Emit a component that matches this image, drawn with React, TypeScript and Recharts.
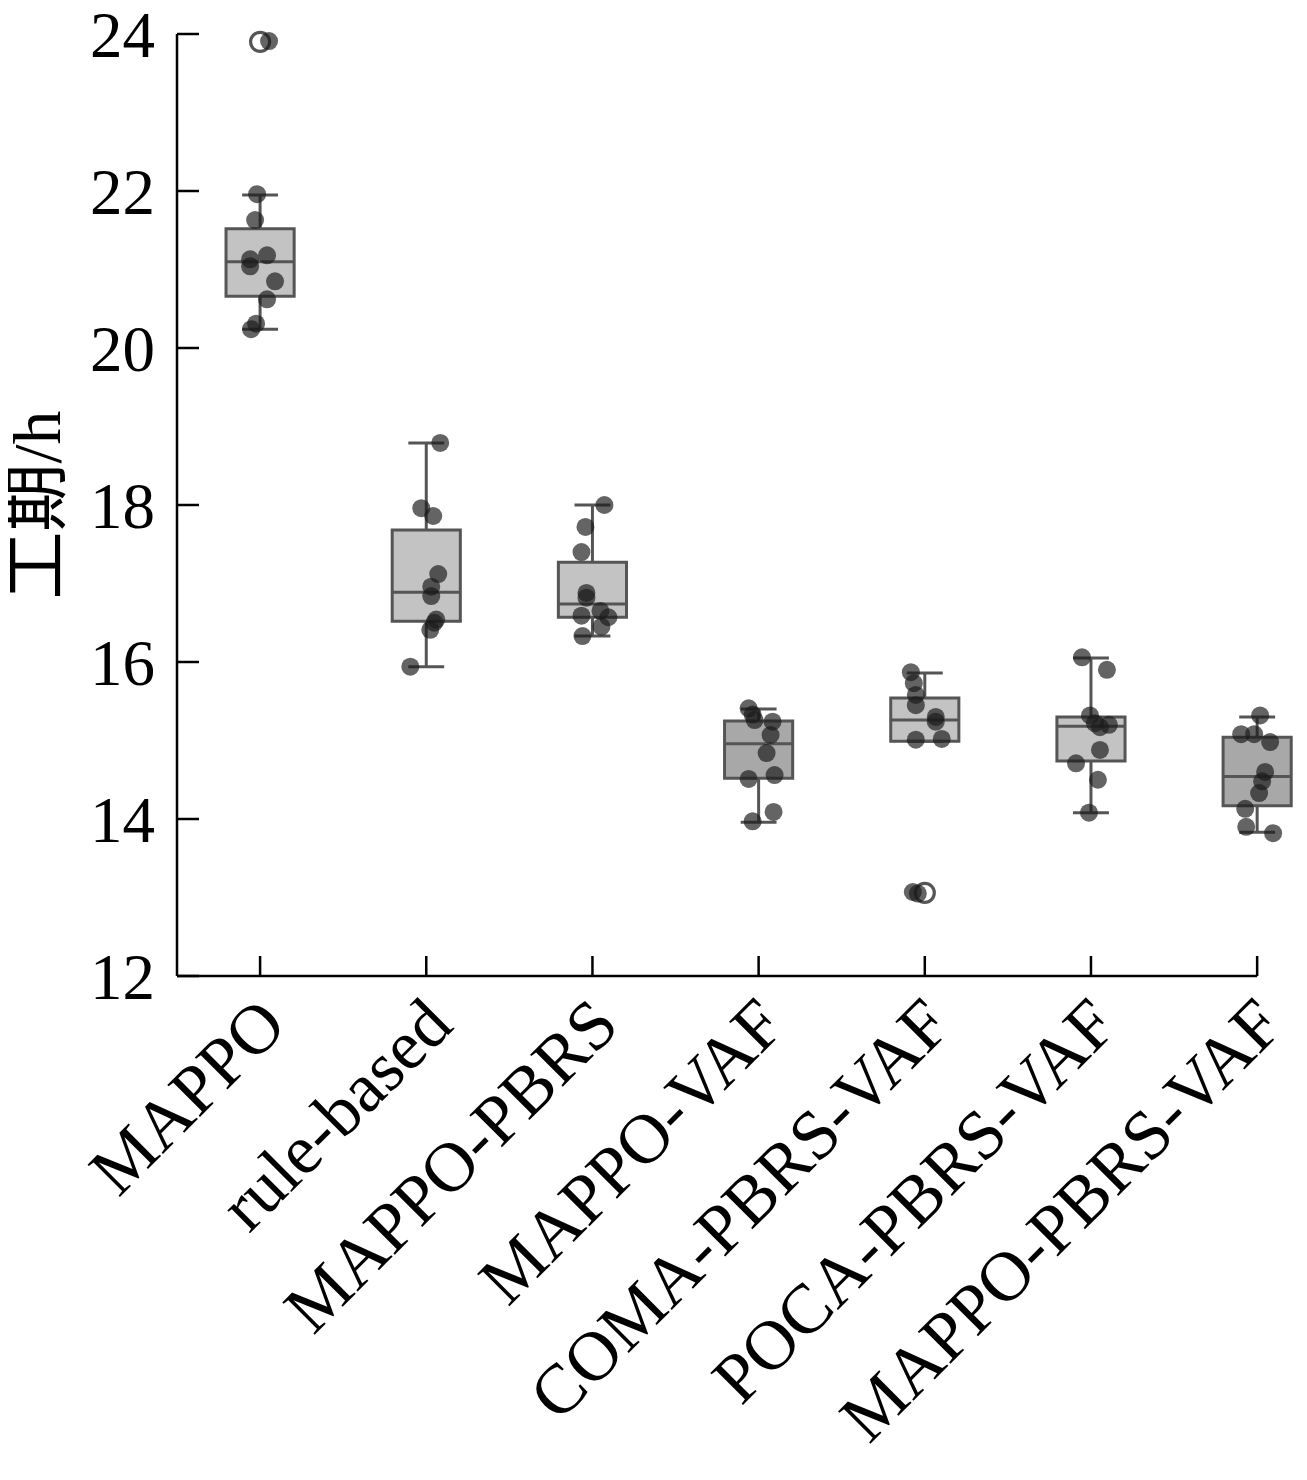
import { ComposedChart, XAxis, YAxis, Scatter, ReferenceArea, ReferenceLine, Label } from 'recharts';

const categories = ['MAPPO', 'rule-based', 'MAPPO-PBRS', 'MAPPO-VAF', 'COMA-PBRS-VAF', 'POCA-PBRS-VAF', 'MAPPO-PBRS-VAF'];

// box statistics per method (hours)
const whiskerLow = [20.24, 15.94, 16.33, 13.96, 14.99, 14.08, 13.83];
const quartile1 = [20.66, 16.52, 16.57, 14.52, 14.99, 14.74, 14.17];
const medians = [21.1, 16.89, 16.74, 14.96, 15.26, 15.18, 14.54];
const quartile3 = [21.52, 17.68, 17.27, 15.25, 15.54, 15.3, 15.04];
const whiskerHigh = [21.95, 18.79, 18.0, 15.4, 15.86, 16.05, 15.3];
const outliers = [[23.9], [], [], [], [13.06], [], []];

// individual runs
const runs = [
  [21.96, 21.63, 21.13, 21.04, 21.18, 20.85, 20.62, 20.31, 20.24, 23.91],
  [18.79, 17.96, 17.86, 17.12, 16.96, 16.84, 16.54, 16.5, 16.41, 15.94],
  [18.0, 17.72, 17.4, 16.88, 16.82, 16.59, 16.65, 16.57, 16.45, 16.33],
  [15.41, 15.33, 15.26, 15.24, 15.07, 14.84, 14.51, 14.56, 14.09, 13.97],
  [15.87, 15.73, 15.58, 15.45, 15.3, 15.24, 15.01, 15.02, 13.07, 13.05],
  [16.06, 15.9, 15.32, 15.22, 15.17, 15.2, 14.88, 14.71, 14.5, 14.08],
  [15.32, 15.08, 15.08, 14.98, 14.6, 14.48, 14.33, 14.13, 13.9, 13.82],
];
// strip-plot jitter (category units)
const jitter = [
  [-0.018, -0.03, -0.06, -0.06, 0.042, 0.09, 0.042, -0.024, -0.054, 0.054],
  [0.084, -0.03, 0.042, 0.072, 0.03, 0.03, 0.06, 0.048, 0.024, -0.096],
  [0.072, -0.042, -0.066, -0.036, -0.036, -0.066, 0.048, 0.096, 0.054, -0.06],
  [-0.06, -0.036, -0.024, 0.084, 0.072, 0.048, -0.06, 0.096, 0.09, -0.036],
  [-0.084, -0.066, -0.054, -0.054, 0.066, 0.066, -0.054, 0.102, -0.072, -0.042],
  [-0.054, 0.096, -0.006, 0.024, 0.054, 0.108, 0.054, -0.09, 0.042, -0.012],
  [0.018, -0.096, -0.018, 0.078, 0.048, 0.03, 0.012, -0.072, -0.066, 0.096],
];

const yTicks = [12, 14, 16, 18, 20, 22, 24];

const SERIF = "'Liberation Serif', 'Noto Sans CJK SC', serif";
const EDGE = '#555555';
const darkBoxes = [3, 6];
const BOX_HALF = 0.205;
const CAP_HALF = 0.108;

const points = runs.flatMap((vals, i) => vals.map((v, j) => ({ x: i + jitter[i][j], y: v })));
const fliers = outliers.flatMap((vals, i) => vals.map((v) => ({ x: i, y: v })));

function CategoryTick(props: any) {
  const { x, y, payload } = props;
  const ax = x + 29;
  return (
    <text
      x={ax}
      y={y}
      textAnchor="end"
      transform={`rotate(-45 ${ax} ${y})`}
      fontFamily={SERIF}
      fontSize={70}
      fill="#000"
    >
      {categories[payload.value]}
    </text>
  );
}

function YTitle(props: any) {
  const { viewBox } = props;
  const cx = viewBox.x + 60;
  const cy = viewBox.y + viewBox.height / 2;
  return (
    <text
      x={cx}
      y={cy}
      textAnchor="middle"
      transform={`rotate(-90 ${cx} ${cy})`}
      fontFamily={SERIF}
      fontSize={68}
      fill="#000"
    >
      工期/h
    </text>
  );
}

export default function App() {
  return (
    <div style={{ marginLeft: -8, marginTop: -8, width: 1307, height: 1480, background: '#fff' }}>
      <ComposedChart width={1307} height={1480} margin={{ top: 34, right: 0, bottom: 0, left: 0 }}>
        <XAxis
          type="number"
          dataKey="x"
          domain={[-0.5, 6.3]}
          ticks={[0, 1, 2, 3, 4, 5, 6]}
          interval={0}
          height={504}
          axisLine={false}
          tickLine={{ stroke: '#000', strokeWidth: 2.5 }}
          tickSize={-20}
          tickMargin={72}
          tick={<CategoryTick />}
        />
        <YAxis
          type="number"
          dataKey="y"
          domain={[12, 24]}
          ticks={yTicks}
          interval={0}
          width={177}
          axisLine={{ stroke: '#000', strokeWidth: 2.5 }}
          tickLine={{ stroke: '#000', strokeWidth: 2.5 }}
          tickSize={-22}
          tickMargin={44}
          tick={{ fontFamily: SERIF, fontSize: 65, fill: '#000' }}
        >
          <Label content={<YTitle />} position="left" />
        </YAxis>

        <ReferenceLine
          segment={[{ x: -0.5, y: 12 }, { x: 6, y: 12 }]}
          stroke="#000"
          strokeWidth={2.5}
        />

        {categories.map((_, i) => (
          <ReferenceArea
            key={`box-${i}`}
            x1={i - BOX_HALF}
            x2={i + BOX_HALF}
            y1={quartile1[i]}
            y2={quartile3[i]}
            fill={darkBoxes.includes(i) ? '#a8a8a8' : '#c3c3c3'}
            fillOpacity={1}
            stroke={EDGE}
            strokeWidth={3}
            ifOverflow="visible"
          />
        ))}
        {categories.map((_, i) => (
          <ReferenceLine
            key={`med-${i}`}
            segment={[{ x: i - BOX_HALF, y: medians[i] }, { x: i + BOX_HALF, y: medians[i] }]}
            stroke={EDGE}
            strokeWidth={3}
            ifOverflow="visible"
          />
        ))}
        {categories.map((_, i) => (
          <ReferenceLine
            key={`wh-${i}`}
            segment={[{ x: i, y: quartile3[i] }, { x: i, y: whiskerHigh[i] }]}
            stroke={EDGE}
            strokeWidth={3}
            ifOverflow="visible"
          />
        ))}
        {categories.map((_, i) => (
          <ReferenceLine
            key={`wl-${i}`}
            segment={[{ x: i, y: quartile1[i] }, { x: i, y: whiskerLow[i] }]}
            stroke={EDGE}
            strokeWidth={3}
            ifOverflow="visible"
          />
        ))}
        {categories.map((_, i) => (
          <ReferenceLine
            key={`ch-${i}`}
            segment={[{ x: i - CAP_HALF, y: whiskerHigh[i] }, { x: i + CAP_HALF, y: whiskerHigh[i] }]}
            stroke={EDGE}
            strokeWidth={3}
            ifOverflow="visible"
          />
        ))}
        {categories.map((_, i) => (
          <ReferenceLine
            key={`cl-${i}`}
            segment={[{ x: i - CAP_HALF, y: whiskerLow[i] }, { x: i + CAP_HALF, y: whiskerLow[i] }]}
            stroke={EDGE}
            strokeWidth={3}
            ifOverflow="visible"
          />
        ))}

        <Scatter
          data={fliers}
          isAnimationActive={false}
          shape={(p: any) => <circle cx={p.cx} cy={p.cy} r={9.5} fill="none" stroke={EDGE} strokeWidth={3.2} />}
        />
        <Scatter
          data={points}
          isAnimationActive={false}
          shape={(p: any) => <circle cx={p.cx} cy={p.cy} r={9} fill="#1a1a1a" fillOpacity={0.68} />}
        />
      </ComposedChart>
    </div>
  );
}
